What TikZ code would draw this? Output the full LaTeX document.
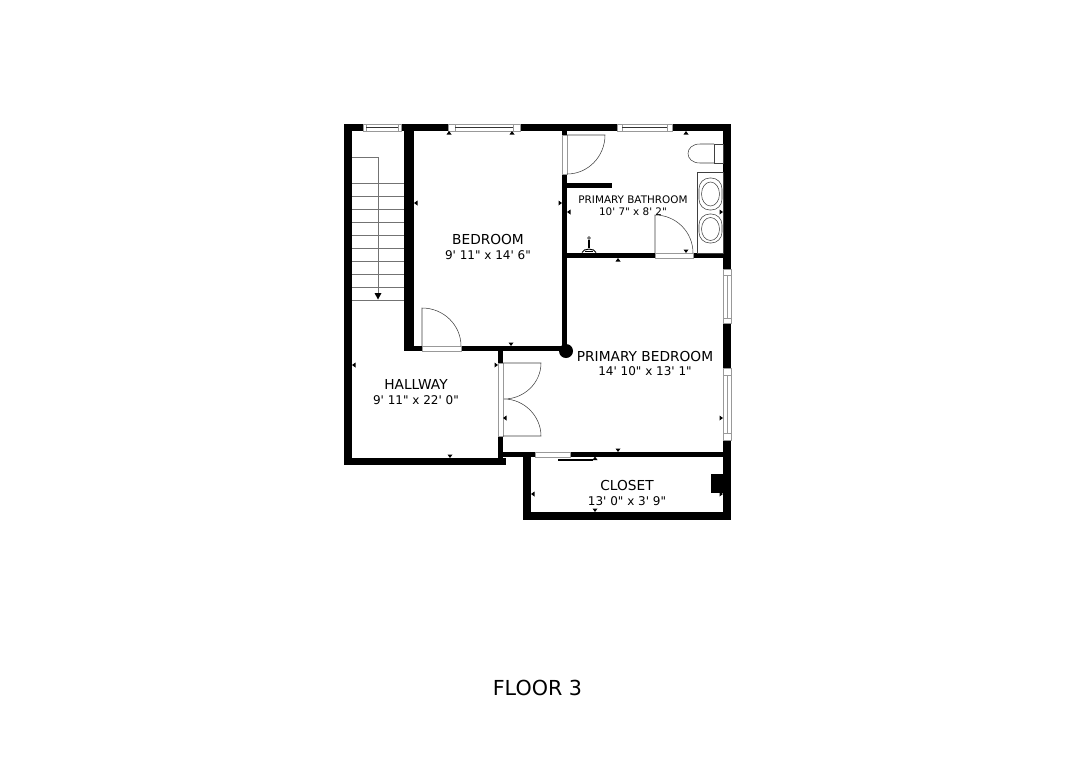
\documentclass[tikz,border=0pt]{standalone}
\usepackage{fontspec}
\newfontfamily\dv{DejaVu Sans}
\definecolor{ln}{gray}{0.45}
\definecolor{wl}{gray}{0.6}
\tikzset{
 x=0.75pt,y=-0.75pt,
 wall/.style={fill=black,draw=none},
 thin line/.style={draw=ln,line width=0.45pt},
 door/.style={draw=black!75,line width=0.4pt},
 win/.style={fill=white,draw=wl,line width=0.5pt},
 wininner/.style={draw=wl,line width=0.5pt},
 lab/.style={inner sep=0,align=center,font=\dv\fontsize{10.3}{12}\selectfont},
 dim/.style={inner sep=0,align=center,font=\dv\fontsize{9}{10}\selectfont},
 small/.style={inner sep=0,align=center,font=\dv\fontsize{7.8}{10}\selectfont},
}
\newcommand{\tri}[3]{\fill[black,shift={(#1,#2)},rotate=#3] (-2.5,0)--(2.5,0)--(0,-3.5)--cycle;}
\begin{document}
\begin{tikzpicture}
\useasboundingbox (0,0) rectangle (1086,768);
\fill[white] (0,0) rectangle (1086,768);
% walls
\fill[wall] (344,124) rectangle (731,131);
\fill[wall] (344,124) rectangle (352,465);
\fill[wall] (344,458) rectangle (506,465);
\fill[wall] (404,124) rectangle (414,351);
\fill[wall] (404,346) rectangle (566,351);
\fill[wall] (562,131) rectangle (567,351);
\fill[wall] (498,346) rectangle (503,465);
\fill[wall] (498,452) rectangle (723,457);
\fill[wall] (523,452) rectangle (531,520);
\fill[wall] (523,512) rectangle (731,520);
\fill[wall] (723,124) rectangle (731,520);
\fill[wall] (567,183) rectangle (612,188);
\fill[wall] (567,253) rectangle (723,258);
\fill[wall] (711,474) rectangle (723,493);
\fill[black] (566,351) circle (7);
% windows
\draw[win] (363,124) rectangle (401,131);
\draw[wininner] (366,124) -- (366,131) (398,124) -- (398,131);
\draw[black!80,line width=0.5pt] (366,127.5) -- (398,127.5);
\draw[win] (448,124) rectangle (520,131);
\draw[wininner] (455,124) -- (455,131) (513,124) -- (513,131);
\draw[black!80,line width=0.5pt] (455,127.5) -- (513,127.5);
\draw[win] (617,124) rectangle (672,131);
\draw[wininner] (622,124) -- (622,131) (667,124) -- (667,131);
\draw[black!80,line width=0.5pt] (622,127.5) -- (667,127.5);
\draw[win] (723.5,269) rectangle (731,323);
\draw[wininner] (723.5,275) -- (731,275) (723.5,318) -- (731,318) (727,275) -- (727,318);
\draw[win] (723.5,368) rectangle (731,440);
\draw[wininner] (723.5,375) -- (731,375) (723.5,433) -- (731,433) (727,375) -- (727,433);
% door openings
\draw[win] (562,135) rectangle (567,174);
\draw[win] (422,346) rectangle (461,351);
\draw[win] (655,253) rectangle (693,258);
\draw[win] (498,363) rectangle (503,436);
\draw[win] (535,452) rectangle (570,457);
% door leaves
\draw[door] (567,135) -- (605,135) .. controls (605,156.5) and (588,174) .. (567,174);
\draw[door] (422,346) -- (422,308) .. controls (443.5,308) and (461,325) .. (461,346);
\draw[door] (655,253) -- (655,215) .. controls (676,215) and (693,232) .. (693,253);
\draw[door] (503,363) -- (541,363) .. controls (541,383) and (524,399) .. (504,399)
  .. controls (524,399) and (541,416) .. (541,436) -- (503,436);
% sliding door
\fill[black] (558,458.5) rectangle (593,460.5);
\tri{595}{460}{0}
% stairs
\draw[thin line] (352,157) -- (378,157) -- (378,293);
\foreach \y in {183,196,209,222,235,248,261,274,287,300}
  \draw[thin line] (352,\y) -- (404,\y);
\fill[black] (374.5,293) -- (381.5,293) -- (378,299.5) -- cycle;
% toilet
\draw[door] (714,144) rectangle (723,163);
\draw[door] (714,144) -- (700,144) .. controls (684,144) and (684,163) .. (700,163) -- (714,163);
% vanity and sinks
\draw[door] (697,172) rectangle (723,253);
\draw[door,rounded corners=8] (699,178) rectangle (722,210);
\draw[door,rounded corners=8] (699,214) rectangle (722,243);
\draw[door] (710.5,194) ellipse (9 and 12);
\draw[door] (710.5,229) ellipse (9 and 11.5);
% fixture
\draw[door,fill=white,line width=0.5pt] (589,238) circle (1.4);
\draw[black,line width=0.8pt] (589,240) -- (589,248);
\draw[black,line width=0.7pt] (582,252.5) .. controls (583,248) and (595,248) .. (596,252.5);
\draw[black,line width=0.7pt] (585,251) -- (593,251);
% dimension marks
\tri{449}{134.5}{0}\tri{512}{134.5}{0}\tri{686}{134.5}{0}
\tri{511}{342.5}{180}\tri{686}{249.5}{180}\tri{618}{448.5}{180}\tri{450}{454.5}{180}\tri{595}{508.5}{180}
\tri{618}{261.5}{0}
\tri{417.5}{203}{90}\tri{558.5}{203}{-90}
\tri{570.5}{212}{90}\tri{719.5}{212}{-90}
\tri{355.5}{365}{90}\tri{494.5}{365}{-90}
\tri{506.5}{418}{90}\tri{719.5}{418}{-90}
\tri{534.5}{494}{90}\tri{719.5}{494}{-90}
% labels
\node[lab] (bedroom) at (488,239) {BEDROOM};
\node[dim] (bedroomd) at (488,255) {9' 11" x 14' 6"};
\node[small] (bath) at (633,200) {PRIMARY BATHROOM};
\node[small] (bathd) at (633,212) {10' 7" x 8' 2"};
\node[lab] (pb) at (645,356) {PRIMARY BEDROOM};
\node[dim] (pbd) at (645,371) {14' 10" x 13' 1"};
\node[lab] (hall) at (416,384) {HALLWAY};
\node[dim] (halld) at (416,400) {9' 11" x 22' 0"};
\node[lab] (closet) at (627,485) {CLOSET};
\node[dim] (closetd) at (627,501) {13' 0" x 3' 9"};
\node[inner sep=0,font=\dv\fontsize{15.5}{18}\selectfont] (floor) at (537.5,688) {FLOOR 3};
\end{tikzpicture}
\end{document}
